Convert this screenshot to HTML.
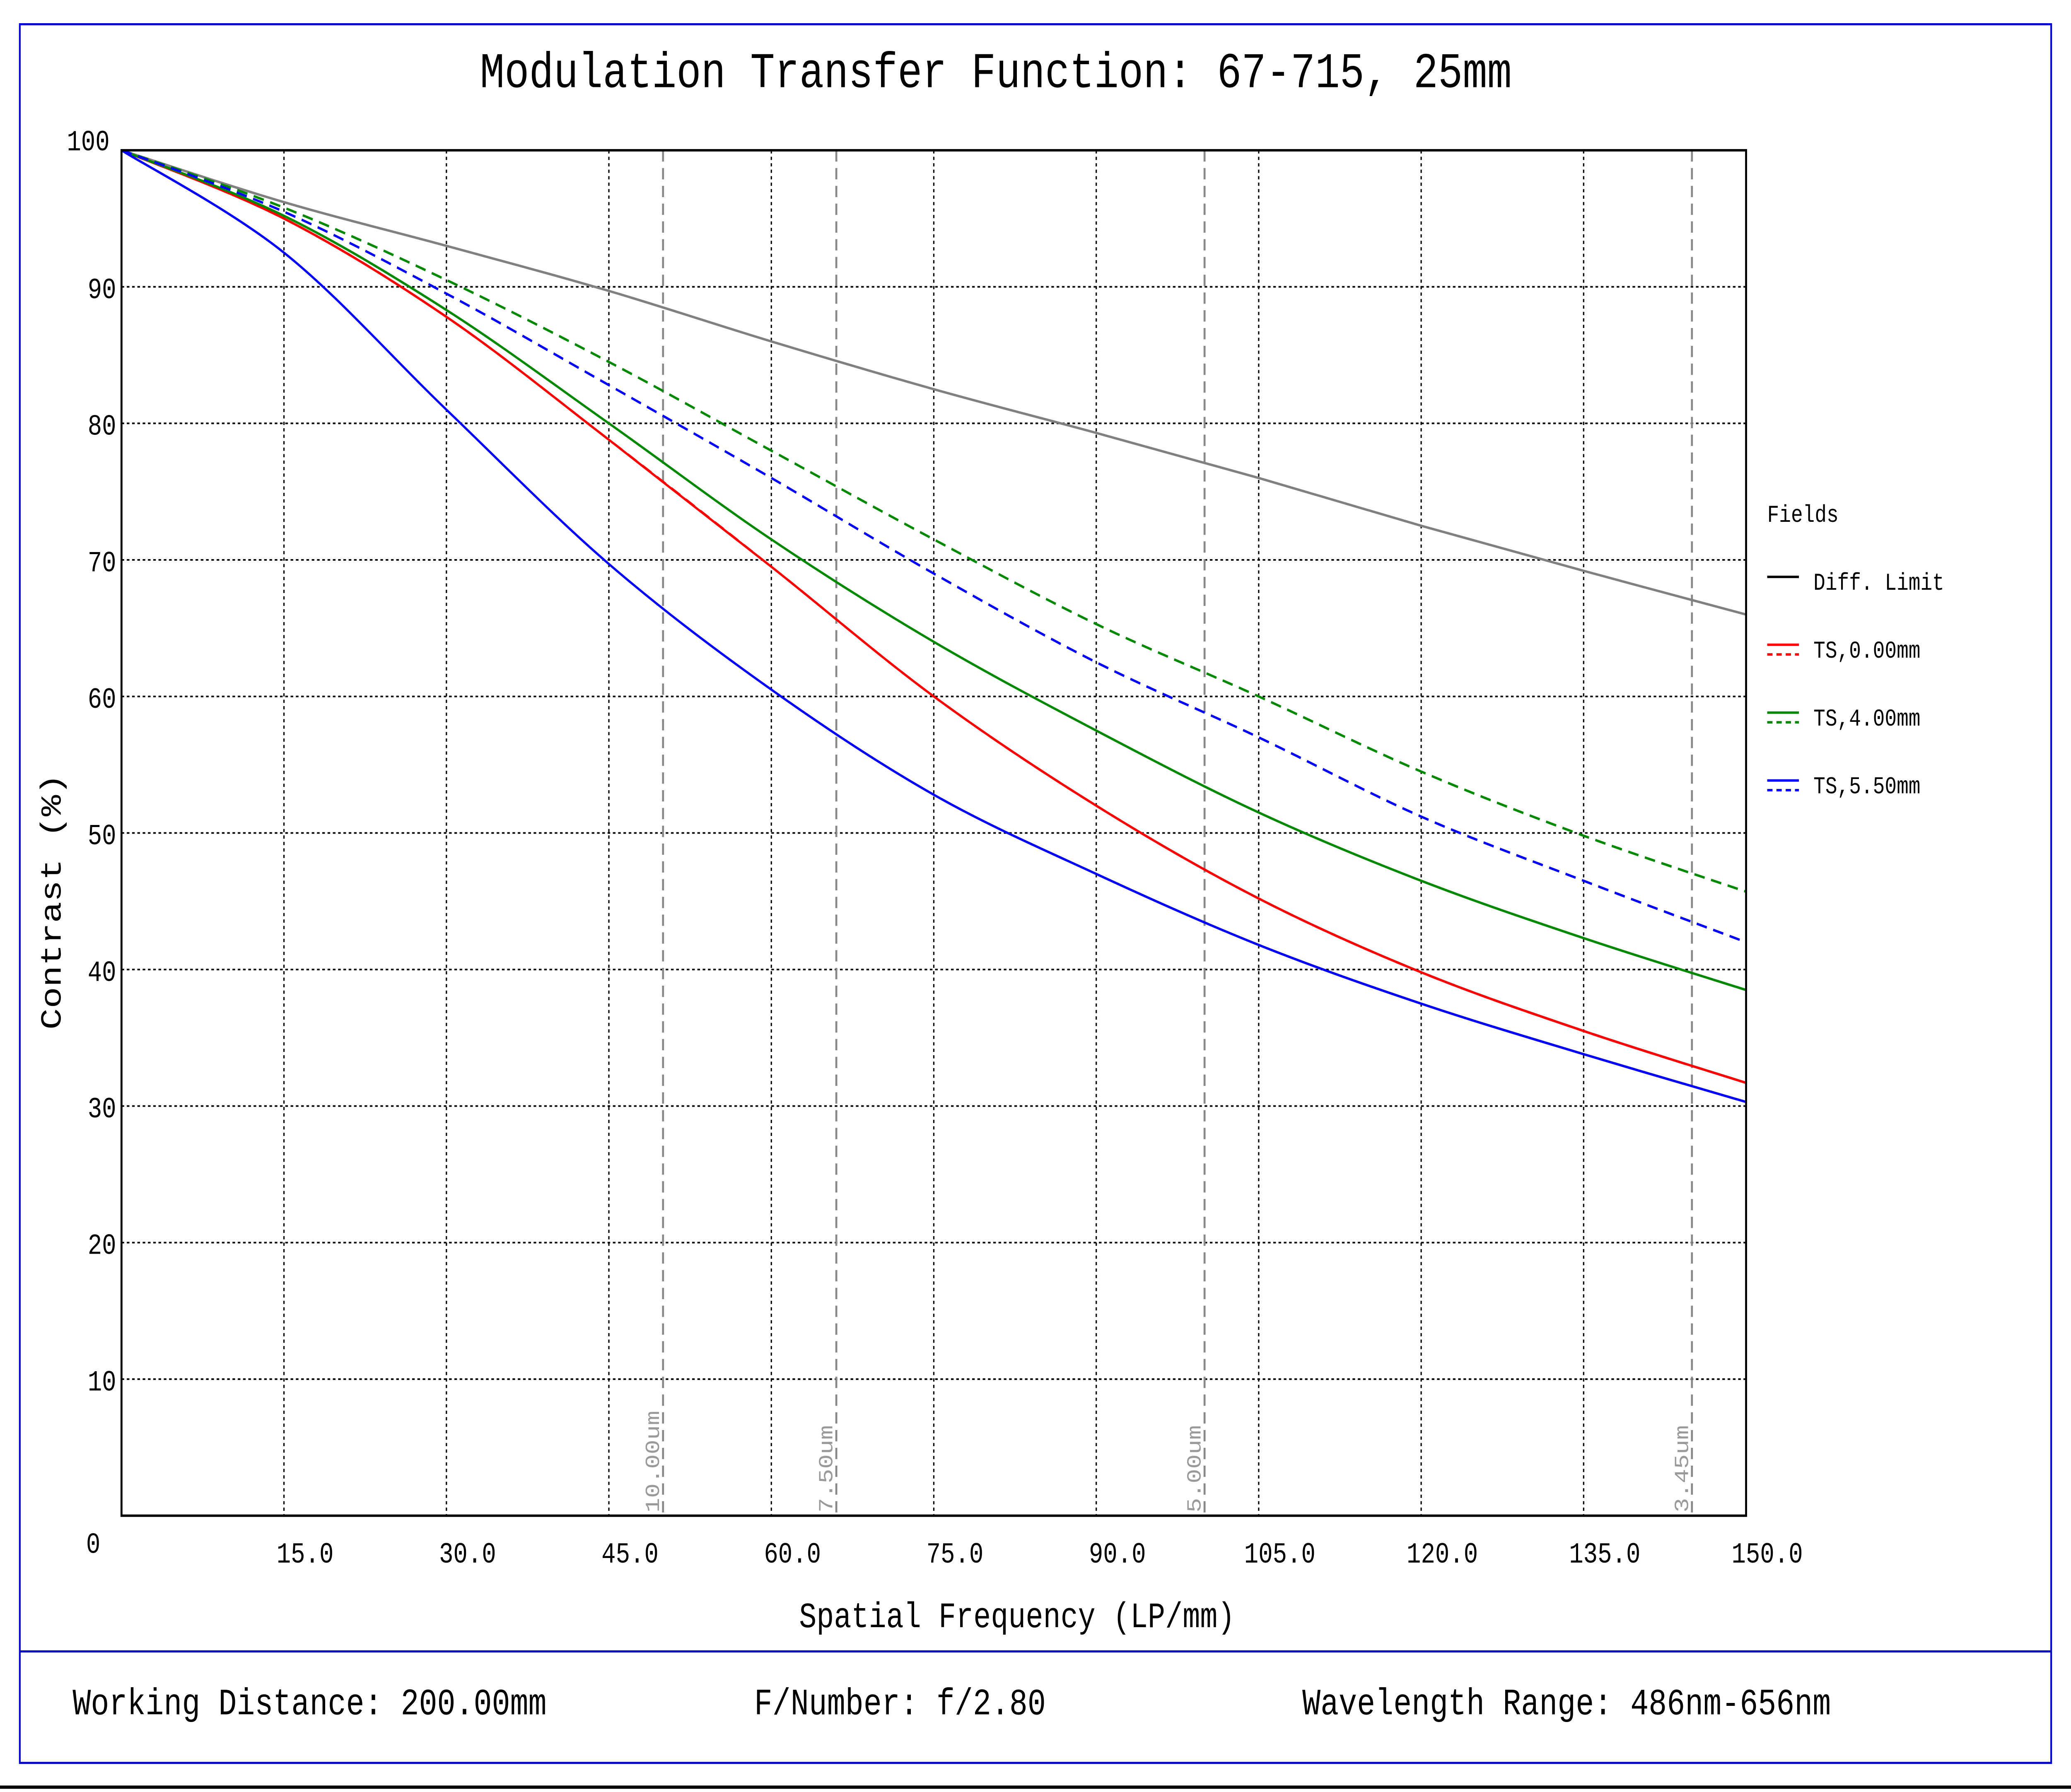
<!DOCTYPE html>
<html><head><meta charset="utf-8"><style>
html,body{margin:0;padding:0;background:#fff;overflow:hidden;width:100vw;height:100vh;}
svg{display:block;position:absolute;left:0;top:0;width:100vw;height:100vh;}
text{font-family:"Liberation Mono","DejaVu Sans Mono",monospace;}
</style></head><body>
<svg id="chart" viewBox="0 0 1568 1109" preserveAspectRatio="none" xmlns="http://www.w3.org/2000/svg">
<rect x="0" y="0" width="1568" height="1109" fill="#fff"/>
<rect x="15" y="15" width="1538" height="1076" fill="none" stroke="#0000cc" stroke-width="1.3"/>
<line x1="15" y1="1022" x2="1553" y2="1022" stroke="#0000cc" stroke-width="1.3"/>
<line x1="0" y1="1106" x2="1568" y2="1106" stroke="#000" stroke-width="2"/>
<text x="754" y="54" font-size="31" text-anchor="middle">Modulation Transfer Function: 67-715, 25mm</text>
<g id="grid"></g>
<g id="series"></g>
<rect x="92" y="93" width="1230" height="845" fill="none" stroke="#000" stroke-width="1.5"/>
<text transform="translate(46,558) rotate(-90)" font-size="22" text-anchor="middle">Contrast (%)</text>
<text x="770" y="1007" font-size="22" text-anchor="middle">Spatial Frequency (LP/mm)</text>
<g>
<text x="1338" y="323" font-size="15">Fields</text>
<line x1="1338" y1="357" x2="1362" y2="357" stroke="#000" stroke-width="1.5"/>
<text x="1373" y="365" font-size="15">Diff. Limit</text>
<line x1="1338" y1="399" x2="1362" y2="399" stroke="#f00" stroke-width="1.5"/>
<line x1="1338" y1="405" x2="1362" y2="405" stroke="#f00" stroke-width="1.5" stroke-dasharray="4,3"/>
<text x="1373" y="407" font-size="15">TS,0.00mm</text>
<line x1="1338" y1="441" x2="1362" y2="441" stroke="#080" stroke-width="1.5"/>
<line x1="1338" y1="447" x2="1362" y2="447" stroke="#080" stroke-width="1.5" stroke-dasharray="4,3"/>
<text x="1373" y="449" font-size="15">TS,4.00mm</text>
<line x1="1338" y1="483" x2="1362" y2="483" stroke="#00f" stroke-width="1.5"/>
<line x1="1338" y1="489" x2="1362" y2="489" stroke="#00f" stroke-width="1.5" stroke-dasharray="4,3"/>
<text x="1373" y="491" font-size="15">TS,5.50mm</text>
</g>
<text x="55" y="1061" font-size="23">Working Distance: 200.00mm</text>
<text x="571" y="1061" font-size="23">F/Number: f/2.80</text>
<text x="986" y="1061" font-size="23">Wavelength Range: 486nm-656nm</text>
</svg>
<script>
const freqs = [0,15,30,45,60,75,90,105,120,135,150];
const diffLimit = [100,96.2,93,89.7,86,82.5,79.3,76,72.5,69.2,66];
const ts0T = [100,95,87.8,78.8,69.5,60,52,45.2,39.8,35.5,31.7];
const ts0S = [100,95,87.8,78.8,69.5,60,52,45.2,39.8,35.5,31.7];
const ts4T = [100,95.2,88.3,80,71.5,64,57.5,51.5,46.5,42.3,38.5];
const ts4S = [100,95.8,90.5,84.5,78,71.5,65.3,60,54.5,49.8,45.7];
const ts55T = [100,92.5,81,69.7,60.5,52.8,47,41.8,37.5,33.8,30.3];
const ts55S = [100,95.5,89.5,82.8,76,69,62.5,57,51.2,46.5,42];
const xTicks = [15,30,45,60,75,90,105,120,135,150];
const yTicks = [0,10,20,30,40,50,60,70,80,90,100];
const pixelFreqs = [50,66,100,145];
const pixelLabels = ["10.00um","7.50um","5.00um","3.45um"];

const NS="http://www.w3.org/2000/svg";
const X=v=>92+v/150*1230, Y=v=>938-v/100*845;
function mk(tag,attrs,parent){const e=document.createElementNS(NS,tag);for(const k in attrs)e.setAttribute(k,attrs[k]);parent.appendChild(e);return e;}
const grid=document.getElementById('grid'), ser=document.getElementById('series');
xTicks.forEach(t=>{
  const l=mk('line',{x1:X(t),y1:93,x2:X(t),y2:938,stroke:'#000','stroke-width':1,'stroke-dasharray':'2,2'},grid);
  
  
  const tx=mk('text',{x:X(t)+16,y:967,'font-size':18,'text-anchor':'middle'},grid);
  tx.textContent=t.toFixed(1);
  
  
});
yTicks.forEach(t=>{
  if(t>0&&t<100){const l=mk('line',{x1:92,y1:Y(t),x2:1322,y2:Y(t),stroke:'#000','stroke-width':1,'stroke-dasharray':'2,2'},grid);
  
  }
  const yy=t===0?961:(t===100?93:Y(t)+7);
  const tx=mk('text',{x:t===0?76:(t===100?83:88),y:yy,'font-size':18,'text-anchor':'end'},grid);
  tx.textContent=String(t);
  
  
});
pixelFreqs.forEach((f,i)=>{
  const l=mk('line',{x1:X(f),y1:93,x2:X(f),y2:938,stroke:'#888','stroke-width':1.5,'stroke-dasharray':'7,4'},grid);
  
  
  const tx=mk('text',{transform:`translate(${X(f)-3},936) rotate(-90)`,'font-size':15,fill:'#999'},grid);
  tx.textContent=pixelLabels[i];
  
  
});
function path(vals){
  const p=freqs.map((f,i)=>[X(f),Y(vals[i])]);
  let d=`M${p[0][0]},${p[0][1]}`;
  for(let i=0;i<p.length-1;i++){
    const p0=p[Math.max(0,i-1)],p1=p[i],p2=p[i+1],p3=p[Math.min(p.length-1,i+2)];
    const c1=[p1[0]+(p2[0]-p0[0])/6,p1[1]+(p2[1]-p0[1])/6];
    const c2=[p2[0]-(p3[0]-p1[0])/6,p2[1]-(p3[1]-p1[1])/6];
    d+=` C${c1[0]},${c1[1]} ${c2[0]},${c2[1]} ${p2[0]},${p2[1]}`;
  }
  return d;
}
function draw(vals,color,dash,name){
  const a={d:path(vals),fill:'none',stroke:color,'stroke-width':1.5};
  if(dash)a['stroke-dasharray']='8,5';
  const e=mk('path',a,ser);
  
  
}
draw(diffLimit,'#808080',false,'diff-limit-curve');
draw(ts0S,'#f00',true,'ts-0-sagittal-curve');
draw(ts0T,'#f00',false,'ts-0-tangential-curve');
draw(ts4S,'#080',true,'ts-4-sagittal-curve');
draw(ts4T,'#080',false,'ts-4-tangential-curve');
draw(ts55S,'#00f',true,'ts-5-5-sagittal-curve');
draw(ts55T,'#00f',false,'ts-5-5-tangential-curve');
</script>
</body></html>
